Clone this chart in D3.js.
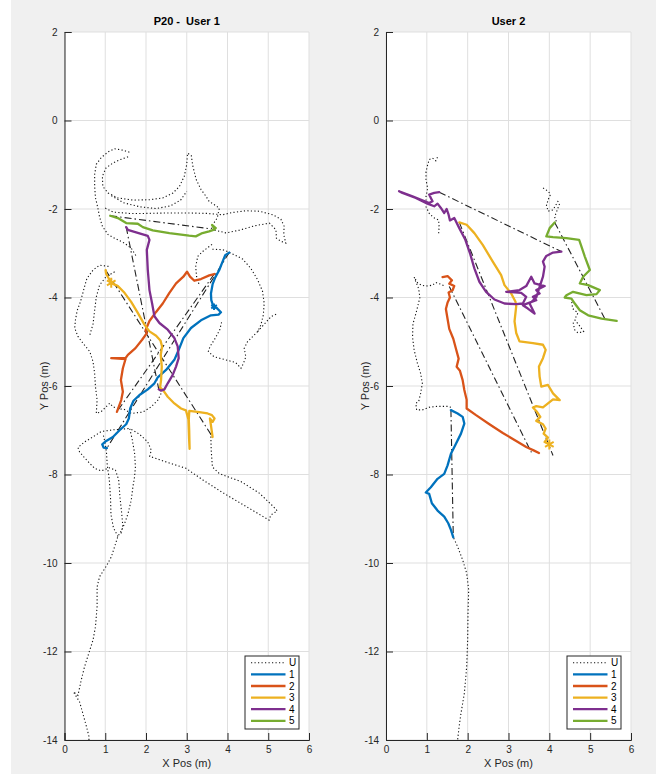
<!DOCTYPE html>
<html><head><meta charset="utf-8">
<script src="https://cdn.jsdelivr.net/npm/d3@7"></script>
<style>body{margin:0;background:#fff}text{font-family:"Liberation Sans",Arial,sans-serif}</style>
</head><body><svg id="c" width="656" height="774"></svg>
<script>
// ---------------- DATA ----------------
const xTicks=[0,1,2,3,4,5,6];
const yTicks=[2,0,-2,-4,-6,-8,-10,-12,-14];
const seriesLabels=["U","1","2","3","4","5"];
const panelTitles=["P20 -  User 1","User 2"];

// User 1 (left) — null = break in the dotted trajectory
const user1_U=[
[0.60,-14.0],[0.60,-13.92],[0.54,-13.70],[0.45,-13.40],[0.37,-13.14],[0.22,-12.91],[0.33,-12.99],[0.41,-12.65],[0.49,-12.35],[0.62,-11.97],[0.70,-11.74],[0.76,-11.44],[0.80,-10.99],[0.80,-10.54],[0.86,-10.31],[1.02,-10.08],[1.15,-9.86],[1.23,-9.63],[1.31,-9.40],[1.39,-9.28],[1.47,-9.12],[1.56,-8.88],[1.64,-8.57],[1.68,-8.27],[1.72,-8.05],[1.74,-7.83],[1.72,-7.52],[1.66,-7.2],[1.60,-6.96],[1.84,-7.09],[2.04,-7.26],[2.13,-7.45],[2.09,-7.59],[2.25,-7.64],[2.57,-7.74],[2.98,-7.86],[3.39,-8.12],[3.90,-8.42],[4.45,-8.72],[5.02,-9.03],[5.06,-8.92],[5.22,-8.82],[5.12,-8.72],[4.78,-8.42],[4.33,-8.16],[3.80,-7.98],[3.63,-7.83],[3.60,-7.45],[3.59,-7.08],null,
[1.39,-9.33],[1.43,-9.15],[1.40,-8.85],[1.36,-8.5],[1.33,-8.12],[1.25,-7.9],[1.10,-7.85],[0.90,-7.92],[0.74,-7.86],[0.62,-7.75],[0.49,-7.62],[0.37,-7.49],[0.33,-7.39],[0.50,-7.26],[0.70,-7.15],[0.90,-7.03],[1.20,-6.99],[1.60,-6.96],null,
[1.31,-9.40],[1.20,-9.2],[1.14,-8.9],[1.13,-8.55],[1.10,-8.12],[1.05,-7.8],[1.03,-7.5],[1.00,-7.3],[0.95,-7.1],null,
[2.37,-6.17],[2.29,-6.32],[2.13,-6.47],[1.92,-6.59],[1.64,-6.62],[1.47,-6.53],[1.31,-6.51],[1.19,-6.47],[1.11,-6.39],[1.02,-6.47],[0.90,-6.58],[0.78,-6.62],[0.80,-6.32],[0.76,-6.02],[0.74,-5.71],[0.70,-5.45],[0.62,-5.22],[0.45,-5.03],[0.33,-4.88],[0.25,-4.69],[0.27,-4.5],[0.31,-4.3],[0.39,-4.1],[0.45,-3.9],[0.49,-3.76],[0.55,-3.57],[0.70,-3.38],[0.86,-3.27],[1.11,-3.30],null,
[1.23,-3.42],[1.02,-3.53],[0.86,-3.72],[0.78,-3.99],[0.74,-4.29],[0.70,-4.60],[0.62,-4.85],null,
[1.75,-3.05],[1.64,-2.89],[1.47,-2.77],[1.27,-2.68],[1.07,-2.58],[0.93,-2.39],[0.86,-2.18],[0.82,-1.98],[0.76,-1.75],[0.74,-1.49],[0.74,-1.22],[0.78,-0.99],[0.90,-0.84],[1.07,-0.71],[1.23,-0.64],[1.43,-0.67],[1.64,-0.73],null,
[1.56,-0.82],[1.35,-0.89],[1.19,-0.96],[1.02,-1.07],[0.93,-1.26],[0.94,-1.49],[1.07,-1.64],[1.31,-1.75],[1.68,-1.80],[2.09,-1.79],[2.41,-1.75],[2.66,-1.64],[2.82,-1.49],[2.94,-1.26],[3.00,-0.99],[3.02,-0.74],[3.11,-0.79],[3.15,-1.03],[3.23,-1.33],[3.35,-1.56],[3.47,-1.71],[3.55,-1.83],[3.67,-1.90],[3.80,-1.98],[3.75,-2.20],[3.62,-2.38],[3.70,-2.48],[3.58,-2.42],null,
[1.15,-1.70],[1.45,-1.86],[1.85,-1.95],[2.25,-1.99],[2.60,-1.93],[2.85,-1.80],[3.00,-1.60],null,
[1.00,-1.98],[1.20,-2.07],[1.60,-2.10],[2.00,-2.10],[2.50,-2.09],[3.06,-2.09],[3.50,-2.10],[3.88,-2.13],[4.12,-2.08],[4.45,-2.04],[4.78,-2.05],[5.11,-2.13],[5.31,-2.23],[5.39,-2.39],[5.38,-2.58],[5.43,-2.77],[5.31,-2.73],[5.20,-2.66],[5.19,-2.47],[5.03,-2.32],[4.66,-2.38],[4.29,-2.48],[3.96,-2.54],[3.70,-2.48],null,
[3.62,-2.80],[3.39,-2.96],[3.27,-3.07],[3.22,-3.30],[3.24,-3.52],[3.30,-3.70],null,
[3.63,-2.91],[3.88,-2.92],[4.00,-2.96],[4.16,-3.03],[4.37,-3.13],[4.57,-3.34],[4.74,-3.60],[4.86,-3.86],[4.90,-4.13],[4.88,-4.39],[4.82,-4.62],[4.74,-4.77],[4.62,-4.88],[4.49,-5.00],[4.41,-5.15],[4.45,-5.34],[4.39,-5.49],[4.33,-5.60],[4.20,-5.47],[3.96,-5.41],[3.67,-5.34],[3.53,-5.22],[3.57,-5.11],[3.70,-4.92],[3.81,-4.73],[3.86,-4.54],null,
[4.74,-4.77],[5.07,-4.43],[5.23,-4.36]
];
const user1_s1=[[4.042,-2.985],[3.944,-3.045],[3.879,-3.189],[3.798,-3.379],[3.70,-3.545],[3.635,-3.697],[3.594,-3.909],[3.602,-4.06],[3.651,-4.197],[3.733,-4.235],[3.839,-4.333],[3.781,-4.386],[3.594,-4.402],[3.349,-4.515],[3.104,-4.689],[2.917,-4.917],[2.803,-5.182],[2.696,-5.409],[2.492,-5.636],[2.289,-5.803],[2.207,-5.939],[2.044,-6.076],[1.84,-6.205],[1.693,-6.333],[1.612,-6.508],[1.579,-6.735],[1.514,-6.864],[1.351,-7.0],[1.188,-7.152],[1.024,-7.242],[0.926,-7.318],[0.959,-7.394],[1.041,-7.402]];
const user1_s2=[[3.675,-3.47],[3.553,-3.50],[3.349,-3.583],[3.186,-3.621],[3.08,-3.53],[3.006,-3.417],[2.917,-3.53],[2.738,-3.682],[2.574,-3.894],[2.411,-4.136],[2.248,-4.326],[2.085,-4.53],[1.987,-4.742],[2.02,-4.803],[1.905,-4.955],[1.742,-5.144],[1.555,-5.295],[1.498,-5.371],[1.147,-5.371],[1.498,-5.39],[1.432,-5.598],[1.384,-5.864],[1.432,-6.129],[1.392,-6.318],[1.286,-6.583]];
const user1_s3=[[1.008,-3.379],[1.024,-3.47],[1.147,-3.667],[1.31,-3.742],[1.473,-3.894],[1.636,-4.098],[1.799,-4.348],[1.962,-4.614],[2.085,-4.765],[2.248,-4.864],[2.354,-4.97],[2.395,-5.106],[2.362,-5.295],[2.387,-5.561],[2.37,-5.864],[2.346,-6.03],[2.427,-6.106],[2.533,-6.242],[2.696,-6.394],[2.859,-6.508],[2.98,-6.55],[3.04,-6.75],[3.05,-7.0],[3.06,-7.25],[3.07,-7.42],[3.06,-7.0],[3.05,-6.75],[3.063,-6.561],[3.307,-6.591],[3.512,-6.621],[3.618,-6.659],[3.683,-6.735],[3.634,-6.811],[3.569,-6.735],[3.593,-6.886],[3.634,-7.152]];
const user1_s4=[[1.514,-2.409],[1.554,-2.47],[2.044,-2.606],[2.085,-2.697],[2.02,-2.924],[2.044,-3.379],[2.085,-3.833],[2.15,-4.136],[2.207,-4.424],[2.33,-4.576],[2.533,-4.727],[2.696,-4.917],[2.778,-5.106],[2.802,-5.371],[2.737,-5.561],[2.656,-5.75],[2.533,-5.939],[2.451,-6.076],[2.37,-6.106],[2.313,-6.076]];
const user1_s5=[[1.122,-2.152],[1.31,-2.205],[1.514,-2.318],[1.799,-2.333],[1.922,-2.409],[2.166,-2.485],[2.574,-2.545],[3.057,-2.604],[3.221,-2.619],[3.385,-2.543],[3.549,-2.506],[3.672,-2.468],[3.713,-2.43],[3.62,-2.36],[3.68,-2.45]];
const user1_links=[
[[1.122,-2.152],[3.60,-2.45]],
[[1.514,-2.409],[2.313,-6.076]],
[[1.008,-3.379],[3.634,-7.152]],
[[4.042,-2.985],[1.041,-7.402]],
[[3.675,-3.47],[1.286,-6.583]]];
const user1_stars=[[1.147,-3.667,3],[3.67,-4.21,1]];

// User 2 (right)
const user2_U=[
[1.72,-14.3],[1.754,-14.0],[1.79,-13.7],[1.836,-13.4],[1.918,-12.95],[1.975,-12.35],[2.0,-11.74],[2.008,-11.14],[2.025,-10.61],[1.975,-10.23],[1.877,-9.93],[1.754,-9.63],[1.648,-9.42],null,
[1.59,-6.48],[1.51,-6.46],[1.26,-6.46],[1.06,-6.48],[0.89,-6.54],[0.75,-6.54],[0.73,-6.39],[0.80,-6.35],[0.85,-6.16],[0.89,-5.94],[0.85,-5.72],[0.77,-5.49],[0.69,-5.19],[0.65,-4.90],[0.66,-4.60],[0.75,-4.30],[0.83,-4.00],[0.80,-3.80],[0.72,-3.62],[0.69,-3.54],[0.78,-3.68],[0.90,-3.73],[1.02,-3.74],[1.14,-3.72],[1.22,-3.66],[1.34,-3.70],[1.43,-3.74],null,
[1.29,-2.55],[1.30,-2.40],[1.29,-2.25],[1.16,-2.19],[1.06,-2.10],[0.98,-1.95],[0.98,-1.72],[1.02,-1.53],[0.98,-1.34],[0.98,-1.16],[1.02,-1.00],[1.06,-0.88],[1.14,-0.85],[1.22,-0.91],[1.26,-0.83],null,
[4.17,-2.28],[4.13,-2.18],[4.25,-1.88],[4.21,-1.83],[4.09,-2.02],[3.97,-2.05],[3.93,-1.92],[3.97,-1.79],[4.03,-1.67],[3.97,-1.60],[3.89,-1.55],[3.80,-1.50],null,
[4.55,-4.10],[4.57,-4.25],[4.70,-4.35],[4.62,-4.50],[4.75,-4.65],[4.84,-4.77],[4.70,-4.80],[4.62,-4.73],[4.58,-4.55]
];
const user2_s1=[[1.59,-6.545],[1.754,-6.621],[1.877,-6.697],[1.918,-6.848],[1.836,-7.076],[1.713,-7.303],[1.59,-7.53],[1.508,-7.795],[1.426,-7.985],[1.262,-8.098],[1.098,-8.288],[0.975,-8.408],[1.057,-8.438],[1.123,-8.649],[1.262,-8.815],[1.426,-8.951],[1.525,-9.102],[1.59,-9.253],[1.648,-9.419]];
const user2_s2=[[1.385,-3.537],[1.508,-3.515],[1.615,-3.612],[1.549,-3.687],[1.672,-3.739],[1.631,-3.836],[1.533,-3.888],[1.566,-4.0],[1.508,-4.112],[1.467,-4.261],[1.508,-4.485],[1.549,-4.709],[1.648,-4.933],[1.713,-5.157],[1.779,-5.381],[1.73,-5.567],[1.811,-5.657],[1.877,-5.866],[1.918,-6.09],[1.975,-6.313],[1.975,-6.508],[2.205,-6.659],[2.533,-6.864],[2.861,-7.061],[3.189,-7.242],[3.434,-7.379],[3.615,-7.455],[3.746,-7.515]];
const user2_s3=[[1.795,-2.303],[1.975,-2.356],[2.164,-2.545],[2.369,-2.811],[2.615,-3.189],[2.82,-3.492],[2.902,-3.72],[3.066,-3.909],[3.172,-4.098],[3.189,-4.197],[3.148,-4.538],[3.189,-4.803],[3.27,-4.992],[3.598,-5.03],[3.844,-5.068],[3.91,-5.182],[3.844,-5.371],[3.746,-5.561],[3.762,-5.788],[3.803,-6.015],[3.967,-5.977],[4.09,-6.167],[4.254,-6.318],[4.09,-6.303],[3.967,-6.394],[3.844,-6.485],[3.68,-6.455],[3.598,-6.485],[3.697,-6.583],[3.779,-6.697],[3.68,-6.788],[3.844,-6.864],[3.91,-6.962],[3.861,-7.076],[3.967,-7.167],[3.885,-7.265],[4.008,-7.318]];
const user2_s4=[[1.303,-1.621],[1.18,-1.636],[1.057,-1.674],[1.098,-1.75],[1.139,-1.826],[1.057,-1.864],[0.648,-1.712],[0.32,-1.598],[0.402,-1.636],[0.73,-1.75],[1.016,-1.879],[1.18,-1.939],[1.262,-1.879],[1.344,-1.977],[1.426,-2.091],[1.484,-2.0],[1.533,-2.129],[1.566,-2.258],[1.672,-2.205],[1.795,-2.432],[1.943,-2.697],[2.057,-3.0],[2.164,-3.341],[2.287,-3.644],[2.451,-3.871],[2.656,-4.045],[2.902,-4.136],[3.189,-4.152],[3.352,-4.136],[3.434,-3.985],[3.311,-3.894],[2.943,-3.871],[3.27,-3.833],[3.434,-3.742],[3.557,-3.53],[3.639,-3.682],[3.885,-3.742],[3.68,-3.833],[3.762,-3.909],[3.598,-3.985],[3.68,-4.061],[3.352,-4.174],[3.475,-4.25],[3.639,-4.364],[3.516,-4.136],[3.68,-4.0],[3.762,-3.758],[3.844,-3.53],[3.885,-3.303],[3.844,-3.189],[3.926,-3.061],[4.09,-2.985],[4.295,-2.962]];
const user2_s5=[[4.131,-2.303],[4.008,-2.432],[3.926,-2.621],[4.09,-2.636],[4.418,-2.659],[4.73,-2.697],[4.787,-2.848],[4.869,-3.076],[4.992,-3.379],[4.828,-3.53],[4.746,-3.682],[4.951,-3.72],[5.238,-3.833],[5.156,-3.924],[4.91,-3.947],[4.582,-3.871],[4.418,-3.947],[4.377,-4.0],[4.541,-4.023],[4.623,-4.136],[4.746,-4.288],[4.951,-4.402],[5.279,-4.477],[5.648,-4.53]];
const user2_links=[
[[1.303,-1.621],[4.295,-2.962]],
[[1.795,-2.303],[4.09,-7.57]],
[[1.55,-3.75],[3.56,-7.50]],
[[4.131,-2.303],[5.36,-4.48]],
[[1.59,-6.545],[1.648,-9.419]]];
const user2_stars=[[4.0,-7.32,3]];

// ---------------- RENDER ----------------
const colors=["#0072BD","#D95319","#EDB120","#7E2F8E","#77AC30"];
const svg=d3.select("#c");
svg.append("rect").attr("x",11).attr("y",0).attr("width",645).attr("height",774).attr("fill","#f0f0f0");

const T=32,B=740;
const panels=[
 {L:64.5,R:309,title:panelTitles[0],U:user1_U,S:[user1_s1,user1_s2,user1_s3,user1_s4,user1_s5],links:user1_links,stars:user1_stars},
 {L:386,R:631,title:panelTitles[1],U:user2_U,S:[user2_s1,user2_s2,user2_s3,user2_s4,user2_s5],links:user2_links,stars:user2_stars}
];
const axisCol="#262626";
panels.forEach((p,i)=>{
  const x=d3.scaleLinear().domain([0,6]).range([p.L,p.R]);
  const y=d3.scaleLinear().domain([-14,2]).range([B,T]);
  const g=svg.append("g");
  g.append("rect").attr("x",p.L).attr("y",T).attr("width",p.R-p.L).attr("height",B-T).attr("fill","#fff");
  // grid
  g.append("g").selectAll("line").data(xTicks).join("line")
    .attr("x1",d=>x(d)).attr("x2",d=>x(d)).attr("y1",T).attr("y2",B)
    .attr("stroke","#dfdfdf").attr("stroke-width",1);
  g.append("g").selectAll("line").data(yTicks).join("line")
    .attr("y1",d=>y(d)).attr("y2",d=>y(d)).attr("x1",p.L).attr("x2",p.R)
    .attr("stroke","#dfdfdf").attr("stroke-width",1);
  // clip
  const cid="clip"+i;
  svg.append("clipPath").attr("id",cid).append("rect").attr("x",p.L).attr("y",T).attr("width",p.R-p.L).attr("height",B-T);
  const pg=g.append("g").attr("clip-path",`url(#${cid})`);
  const line=d3.line().defined(d=>d!==null).x(d=>x(d[0])).y(d=>y(d[1]));
  // dotted trajectory
  pg.append("path").attr("d",line(p.U)).attr("fill","none").attr("stroke","#111")
    .attr("stroke-width",1.1).attr("stroke-dasharray","1.2,2.3");
  // dash-dot links
  p.links.forEach(l=>{
    pg.append("path").attr("d",line(l)).attr("fill","none").attr("stroke","#222")
      .attr("stroke-width",1.1).attr("stroke-dasharray","7,3,1.5,3");
  });
  // colored series
  p.S.forEach((s,k)=>{
    pg.append("path").attr("d",line(s)).attr("fill","none").attr("stroke",colors[k])
      .attr("stroke-width",2.3).attr("stroke-linejoin","round").attr("stroke-linecap","round");
  });
  // star markers
  p.stars.forEach(st=>{
    pg.append("path").attr("d",d3.symbol(d3.symbolAsterisk,st[2]===3?70:30)())
      .attr("transform",`translate(${x(st[0])},${y(st[1])})`)
      .attr("fill","none").attr("stroke",colors[st[2]-1]).attr("stroke-width",2);
  });
  // axes
  const ya=g.append("g").attr("transform",`translate(${p.L},0)`)
    .call(d3.axisLeft(y).tickValues(yTicks).tickSize(-7).tickPadding(7).tickFormat(d=>String(d)));
  const xa=g.append("g").attr("transform",`translate(0,${B})`)
    .call(d3.axisBottom(x).tickValues(xTicks).tickSize(-7).tickPadding(6).tickFormat(d=>String(d)));
  [ya,xa].forEach(a=>{
    a.select(".domain").attr("stroke",axisCol).attr("stroke-width",1);
    a.selectAll(".tick line").attr("stroke",axisCol);
    a.selectAll(".tick text").attr("fill",axisCol).style("font-size","10px").style("font-family",'"Liberation Sans",Arial,sans-serif');
  });
  // title & labels
  g.append("text").attr("x",(p.L+p.R)/2).attr("y",25).attr("text-anchor","middle")
    .style("font-size","11px").style("font-weight","bold").style("white-space","pre").attr("xml:space","preserve")
    .attr("fill","#000").text(p.title);
  g.append("text").attr("x",(p.L+p.R)/2).attr("y",767).attr("text-anchor","middle")
    .style("font-size","11px").attr("fill",axisCol).text("X Pos (m)");
  g.append("text").attr("transform",`translate(${p.L-17},${(T+B)/2}) rotate(-90)`).attr("text-anchor","middle")
    .style("font-size","11px").attr("fill",axisCol).text("Y Pos (m)");
  // legend
  const lg=g.append("g");
  const lx=p.R-64, ly=B-84;
  lg.append("rect").attr("x",lx).attr("y",ly).attr("width",54).attr("height",73)
    .attr("fill","#fff").attr("stroke",axisCol).attr("stroke-width",1);
  seriesLabels.forEach((lab,k)=>{
    const yy=ly+6.8+k*11.6;
    const ln=lg.append("line").attr("x1",lx+6).attr("x2",lx+40.5).attr("y1",yy).attr("y2",yy);
    if(k===0) ln.attr("stroke","#111").attr("stroke-width",1.1).attr("stroke-dasharray","1.2,2.3");
    else ln.attr("stroke",colors[k-1]).attr("stroke-width",2.3);
    lg.append("text").attr("x",lx+44).attr("y",yy+3.6).style("font-size","10px").attr("fill","#000").text(lab);
  });
});
</script></body></html>
